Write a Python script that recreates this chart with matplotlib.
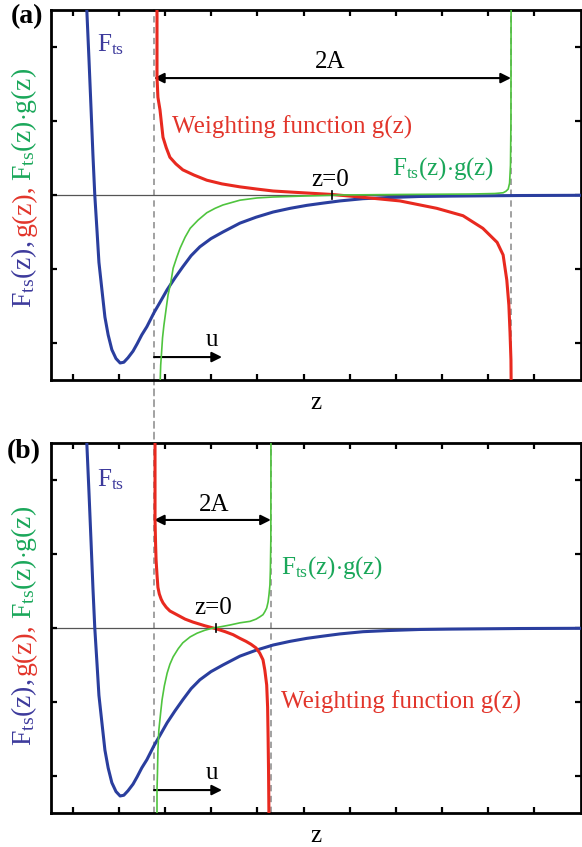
import numpy as np
import matplotlib
matplotlib.use("Agg")
import matplotlib.pyplot as plt
from matplotlib.patches import ConnectionPatch


# ------------------------------------------------------------
# Fonts
# ------------------------------------------------------------
plt.rcParams["font.family"] = ["Liberation Serif", "DejaVu Serif"]
plt.rcParams["mathtext.fontset"] = "custom"
plt.rcParams["mathtext.rm"] = "Liberation Serif"
plt.rcParams["mathtext.it"] = "Liberation Serif:italic"

# ------------------------------------------------------------
# Data (arbitrary units)
# ------------------------------------------------------------

# tip-sample force F_ts(z), same in both panels
FTS_Z = [0.29, 0.345, 0.39, 0.43, 0.47, 0.52, 0.56, 0.63, 0.69, 0.76, 0.84,
         0.93, 1.02, 1.10, 1.19, 1.30, 1.39, 1.49, 1.60, 1.755, 1.885, 2.04,
         2.21, 2.38, 2.56, 2.75, 2.99, 3.25, 3.62, 3.97, 4.34, 4.71, 5.07,
         5.42, 5.79, 6.29, 6.81, 7.52, 8.18, 9.69, 11.02]
FTS_F = [2.60, 1.82, 1.15, 0.54, 0.0, -0.50, -0.91, -1.31, -1.65, -1.89,
         -2.09, -2.21, -2.27, -2.26, -2.20, -2.11, -2.01, -1.89, -1.78, -1.59,
         -1.45, -1.28, -1.12, -0.97, -0.82, -0.70, -0.59, -0.50, -0.38, -0.30,
         -0.23, -0.18, -0.14, -0.11, -0.08, -0.05, -0.035, -0.02, -0.015,
         -0.007, -0.004]

# panel (a): large amplitude
G_A_Z = [1.82, 1.82, 1.84, 1.885, 1.92, 1.95, 2.02, 2.10, 2.23, 2.38, 2.62,
         2.90, 3.23, 3.62, 3.99, 4.34, 4.71, 5.07, 5.62, 6.22, 7.09, 7.89,
         8.46, 8.89, 9.20, 9.33, 9.41, 9.455, 9.48, 9.50, 9.505]
G_A_VAL = [2.60, 1.59, 1.32, 1.15, 0.95, 0.78, 0.64, 0.51, 0.42, 0.34, 0.27,
           0.20, 0.15, 0.11, 0.08, 0.054, 0.04, 0.027, 0.007, -0.027, -0.08,
           -0.18, -0.28, -0.45, -0.64, -0.81, -1.15, -1.49, -1.86, -2.23,
           -2.60]
FG_A_Z = [1.885, 1.90, 1.92, 1.94, 1.97, 2.02, 2.06, 2.12, 2.17, 2.25, 2.32,
          2.43, 2.54, 2.71, 2.90, 3.08, 3.25, 3.62, 3.99, 4.34, 5.07, 5.79,
          7.09, 8.61, 9.15, 9.33, 9.39, 9.44, 9.47, 9.49, 9.50, 9.503]
FG_A_VAL = [-2.60, -2.30, -2.12, -1.93, -1.76, -1.53, -1.35, -1.18, -0.99,
            -0.84, -0.72, -0.57, -0.45, -0.34, -0.24, -0.18, -0.135, -0.07,
            -0.04, -0.027, -0.013, 0.0, 0.007, 0.013, 0.02, 0.03, 0.05, 0.08,
            0.16, 0.40, 1.0, 2.60]

# panel (b): small amplitude
G_B_Z = [1.777, 1.777, 1.79, 1.80, 1.82, 1.84, 1.87, 1.91, 1.95, 2.02, 2.10,
         2.25, 2.43, 2.60, 2.86, 3.10, 3.30, 3.47, 3.62, 3.75, 3.86, 3.97,
         4.05, 4.12, 4.16, 4.20, 4.22, 4.23, 4.24, 4.25]
G_B_VAL = [2.60, 1.46, 1.12, 0.92, 0.72, 0.55, 0.46, 0.39, 0.34, 0.28, 0.23,
           0.18, 0.12, 0.08, 0.03, -0.01, -0.05, -0.09, -0.14, -0.18, -0.22,
           -0.27, -0.34, -0.43, -0.57, -0.77, -1.07, -1.45, -1.92, -2.60]
FG_B_Z = [1.82, 1.82, 1.83, 1.84, 1.86, 1.90, 1.93, 1.98, 2.04, 2.10, 2.17,
          2.28, 2.38, 2.54, 2.69, 2.86, 3.04, 3.23, 3.40, 3.62, 3.84, 3.97,
          4.05, 4.12, 4.16, 4.20, 4.23, 4.25, 4.27, 4.28, 4.29, 4.293]
FG_B_VAL = [-2.60, -2.19, -1.96, -1.65, -1.38, -1.14, -0.97, -0.78, -0.61,
            -0.49, -0.39, -0.28, -0.20, -0.12, -0.07, -0.03, 0.0, 0.02, 0.04,
            0.07, 0.09, 0.12, 0.15, 0.18, 0.22, 0.27, 0.35, 0.45, 0.58, 0.78,
            1.19, 2.60]

# turning points (dashed lines) and centre z=0
TURN_A = [1.755, 9.50]
TURN_B = [1.755, 4.29]
ZERO_A = 5.62
ZERO_B = 3.10

XLIM = (-0.48, 11.02)
YLIM = (-2.5, 2.5)

BLUE_LINE = "#2a3e9e"
RED_LINE = "#e8291f"
GREEN_LINE = "#4fc43e"
BLUE_TXT = "#3d3a9c"
RED_TXT = "#e2352b"
GREEN_TXT = "#1aa75a"
DASH = "#9a9a9a"
FS = 18
FS_Y = 20


def style_axes(ax):
    ax.set_xlim(*XLIM)
    ax.set_ylim(*YLIM)
    ax.set_xticks(np.arange(0, 11))
    ax.set_yticks([-2, -1, 0, 1, 2])
    ax.tick_params(direction="in", length=4, width=1.6, top=True, right=True,
                   labelbottom=False, labelleft=False)
    for s in ax.spines.values():
        s.set_linewidth(2.0)
    ax.axhline(0, color="#555555", lw=0.9, zorder=1.5)


def arrow(ax, x0, x1, y, style):
    ax.annotate("", xy=(x1, y), xytext=(x0, y),
                arrowprops=dict(arrowstyle=style, color="black", lw=1.5,
                                mutation_scale=15, shrinkA=0, shrinkB=0))


def ylabel_pieces(fig, ax, center):
    # three coloured pieces, rotated, centred at 'center' (axes fraction)
    pieces = [(r"F$_{\rm ts}$(z),", BLUE_TXT),
              ("g(z),", RED_TXT),
              (r"F$_{\rm ts}$(z)$\cdot$g(z)", GREEN_TXT)]
    renderer = fig.canvas.get_renderer()
    gap = 4 / ax.bbox.height
    texts, lens = [], []
    for txt, col in pieces:
        t = ax.text(-0.0375, 0, txt, transform=ax.transAxes, rotation=90,
                    rotation_mode="anchor", ha="left", va="baseline",
                    color=col, fontsize=FS_Y)
        texts.append(t)
        lens.append(t.get_window_extent(renderer).height / ax.bbox.height)
    total = sum(lens) + gap * (len(lens) - 1)
    y = center - total / 2
    for t, ln in zip(texts, lens):
        t.set_position((-0.0375, y))
        y += ln + gap


def panel(fig, ax, g_z, g_v, fg_z, fg_v, turn, z0, lab):
    style_axes(ax)
    for xt in turn:
        ax.axvline(xt, color=DASH, lw=1.3, ls=(0, (3.5, 2.5)), zorder=1)
    ax.plot(FTS_Z, FTS_F, color=BLUE_LINE, lw=2.2, zorder=3)
    ax.plot(g_z, g_v, color=RED_LINE, lw=2.2, zorder=4)
    ax.plot(fg_z, fg_v, color=GREEN_LINE, lw=1.2, zorder=5)
    ax.plot([z0, z0], [-0.06, 0.06], color="black", lw=1.2, zorder=6)
    ax.text(0.5, -0.062, "z", transform=ax.transAxes, ha="center",
            va="center", fontsize=FS)
    fig.text(lab[1], lab[2], lab[0], fontsize=20, fontweight="bold",
             ha="left", va="center")


fig = plt.figure(figsize=(5.82, 8.47), dpi=100)
ax_a = fig.add_axes([51 / 582, 1 - 380 / 847, 530 / 582, 370 / 847])
ax_b = fig.add_axes([51 / 582, 1 - 813 / 847, 530 / 582, 370 / 847])

panel(fig, ax_a, G_A_Z, G_A_VAL, FG_A_Z, FG_A_VAL, TURN_A, ZERO_A,
      ("(a)", 11 / 582, 1 - 17 / 847))
panel(fig, ax_b, G_B_Z, G_B_VAL, FG_B_Z, FG_B_VAL, TURN_B, ZERO_B,
      ("(b)", 7 / 582, 1 - 452 / 847))

# dashed line connecting both panels at the lower turning point
con = ConnectionPatch(xyA=(TURN_A[0], YLIM[1]), coordsA=ax_a.transData,
                      xyB=(TURN_B[0], YLIM[0]), coordsB=ax_b.transData,
                      color=DASH, lw=1.3, ls=(0, (3.5, 2.5)), zorder=0)
fig.add_artist(con)

# panel (a) annotations
arrow(ax_a, TURN_A[0], TURN_A[1], 1.58, "<|-|>")
ax_a.text(5.57, 1.80, "2A", ha="center", va="center", fontsize=FS)
arrow(ax_a, TURN_A[0], 3.23, -2.19, "-|>")
ax_a.text(3.02, -1.96, "u", ha="center", va="center", fontsize=FS)
ax_a.text(ZERO_A - 0.05, 0.2, "z=0", ha="center", va="center", fontsize=FS)
ax_a.text(0.52, 2.03, r"F$_{\rm ts}$", color=BLUE_TXT, ha="left",
          va="center", fontsize=FS)
ax_a.text(2.15, 0.91, "Weighting function g(z)", color=RED_TXT, ha="left",
          va="center", fontsize=FS)
ax_a.text(6.92, 0.36, r"F$_{\rm ts}$(z)$\cdot$g(z)", color=GREEN_TXT,
          ha="left", va="center", fontsize=FS)

# panel (b) annotations
arrow(ax_b, TURN_B[0], TURN_B[1], 1.46, "<|-|>")
ax_b.text(3.05, 1.66, "2A", ha="center", va="center", fontsize=FS)
arrow(ax_b, TURN_B[0], 3.23, -2.19, "-|>")
ax_b.text(3.02, -1.96, "u", ha="center", va="center", fontsize=FS)
ax_b.text(ZERO_B - 0.05, 0.27, "z=0", ha="center", va="center", fontsize=FS)
ax_b.text(0.52, 2.0, r"F$_{\rm ts}$", color=BLUE_TXT, ha="left",
          va="center", fontsize=FS)
ax_b.text(4.51, 0.81, r"F$_{\rm ts}$(z)$\cdot$g(z)", color=GREEN_TXT,
          ha="left", va="center", fontsize=FS)
ax_b.text(4.51, -1.0, "Weighting function g(z)", color=RED_TXT, ha="left",
          va="center", fontsize=FS)

fig.canvas.draw()
ylabel_pieces(fig, ax_a, 0.52)
ylabel_pieces(fig, ax_b, 0.505)

fig.savefig("out.png", dpi=100)
